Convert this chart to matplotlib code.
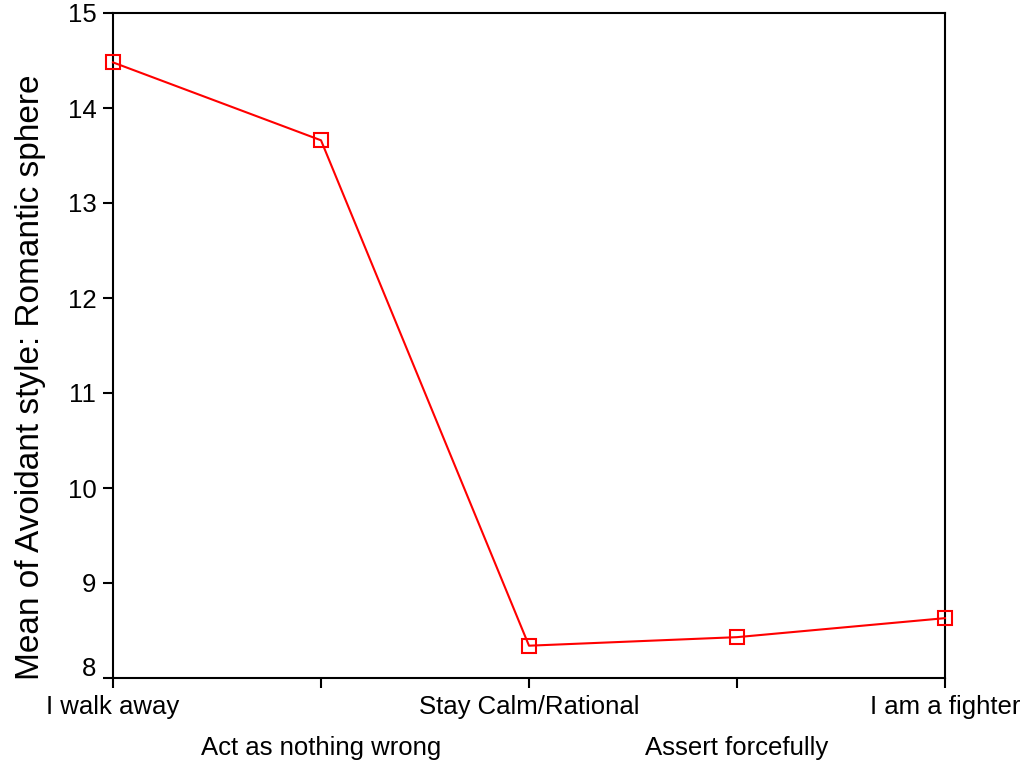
import matplotlib.pyplot as plt
import matplotlib.transforms as mtransforms

plt.rcParams['font.family'] = ['Liberation Sans', 'DejaVu Sans']

# responses and means
responses = ['I walk away', 'Act as nothing wrong', 'Stay Calm/Rational',
             'Assert forcefully', 'I am a fighter']
means = [14.48, 13.66, 8.34, 8.43, 8.63]
y_ticks = [8, 9, 10, 11, 12, 13, 14, 15]

fig = plt.figure(figsize=(10.29, 7.65), dpi=100)
ax = fig.add_axes([113/1029, 1 - 678/765, (945 - 113)/1029, (678 - 13)/765])

x = list(range(len(responses)))
ax.plot(x, means, color='red', lw=1.5, marker='s', markersize=10,
        markerfacecolor='none', markeredgecolor='red', markeredgewidth=1.5,
        clip_on=False, zorder=3)

ax.set_xlim(0, len(responses) - 1)
ax.set_ylim(8, 15)
ax.set_yticks(y_ticks)

# alternate labels between two rows: even ones as major ticks, odd as minor
ax.set_xticks(x[0::2])
ax.set_xticklabels(responses[0::2])
ax.set_xticks(x[1::2], minor=True)
ax.set_xticklabels(responses[1::2], minor=True)

ax.tick_params(axis='both', which='both', direction='out', length=7, width=1.5,
               labelsize=18.5, colors='black')
ax.tick_params(axis='x', which='major', pad=5)
ax.tick_params(axis='x', which='minor', pad=35)
ax.tick_params(axis='y', pad=5)
for s in ax.spines.values():
    s.set_linewidth(1.5)

# lowest y label sits a little above its tick
lab8 = ax.get_yticklabels()[0]
lab8.set_transform(lab8.get_transform() +
                   mtransforms.ScaledTranslation(0, 12/100, fig.dpi_scale_trans))

ax.set_ylabel('Mean of Avoidant style: Romantic sphere', fontsize=24)
ax.yaxis.set_label_coords(-0.080, 0.453)

fig.savefig('out.png', dpi=100)
